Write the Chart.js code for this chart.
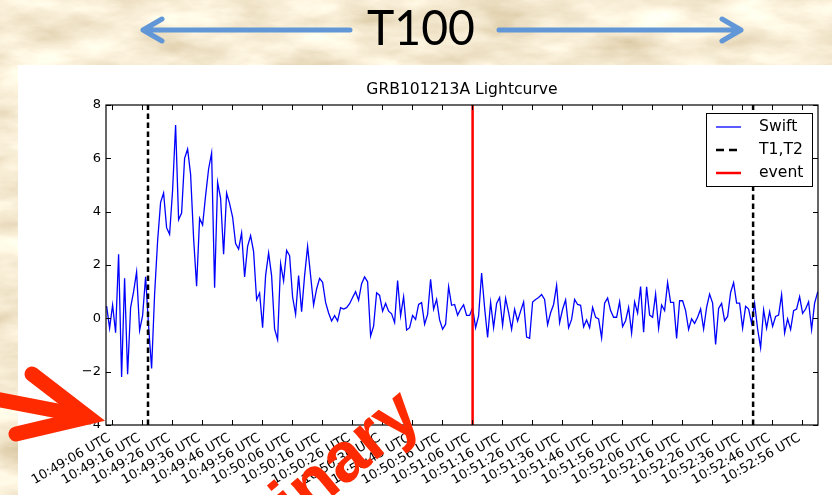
<!DOCTYPE html>
<html>
<head>
<meta charset="utf-8">
<script src="https://cdn.jsdelivr.net/npm/chart.js@4.4.1/dist/chart.umd.min.js"></script>
<style>
  html, body { margin: 0; padding: 0; }
  body { width: 832px; height: 495px; position: relative; overflow: hidden; background: #e6d3aa; }
  #papel, #sobreposicao { position: absolute; left: 0; top: 0; }
  #painel { position: absolute; left: 18px; top: 65px; width: 814px; height: 430px; background: #fff; }
  #grafico { position: absolute; left: 0; top: 0; }
</style>
</head>
<body>
<svg id="papel" width="832" height="495">
  <filter id="textura" x="0" y="0" width="100%" height="100%">
    <feTurbulence type="fractalNoise" baseFrequency="0.011 0.03" numOctaves="5" seed="7"/>
    <feColorMatrix type="matrix" values="0.6 0 0 0 0.62  0.7 0 0 0 0.48  0.8 0 0 0 0.25  0 0 0 0 1"/>
  </filter>
  <rect width="832" height="495" filter="url(#textura)"/>
</svg>
<div id="painel"></div>
<canvas id="grafico" width="832" height="495"></canvas>
<svg id="sobreposicao" width="832" height="495">
  <g stroke="#6197d6" stroke-width="5" fill="none" stroke-linecap="round" stroke-linejoin="round">
    <path d="M350 30 L143 30 M162 19 L143 30 L162 41"/>
    <path d="M499 30 L741 30 M722 19 L741 30 L722 41"/>
  </g>
  <text x="367" y="45" font-family="Lato" font-size="49" fill="#000" textLength="108" lengthAdjust="spacingAndGlyphs">T100</text>
  <g stroke="#ff2a00" stroke-width="15" fill="none" stroke-linecap="round" stroke-linejoin="miter">
    <path d="M-10 398 L84 416"/>
    <path d="M32 374 L88 417 L16 434"/>
  </g>
  <text x="424" y="420" transform="rotate(-40 424 420)" text-anchor="end" font-family="Liberation Sans" font-weight="bold" font-size="70" fill="#ff2a00">Preliminary</text>
</svg>
<script>
// Taxa Swift (contagens normalizadas), um bin por segundo
const swiftInicio = -1.8;   // segundos após 10:49:06 UTC
const swiftBin = 1.0;
const swiftTaxa = [
  0.46, -0.37, 0.5, -0.54, 2.4, -2.2, 1.5, -2.1, 0.4, 1.0,
  1.74, -0.45, 0.1, 1.56, -0.3, -1.88, 0.9, 2.9, 4.35, 4.7,
  3.4, 3.15, 4.8, 7.25, 3.7, 3.95, 6.0, 6.35, 5.4, 3.0,
  1.2, 3.75, 3.5, 4.6, 5.6, 6.2, 1.15, 5.1, 4.5, 2.4,
  4.7, 4.3, 3.8, 2.8, 2.6, 3.2, 1.55, 2.7, 3.1, 2.5,
  0.7, 0.95, -0.35, 1.6, 2.45, 1.6, -0.4, -0.8, 2.05, 1.4,
  2.55, 2.35, 0.8, 0.15, 1.6, 0.25, 1.6, 2.7, 1.6, 0.5,
  1.1, 1.5, 1.35, 0.6, 0.2, -0.1, 0.1, -0.1, 0.4, 0.35,
  0.4, 0.55, 0.78, 1.0, 0.68, 1.3, 1.55, 1.37, -0.66, -0.29,
  0.96, 0.86, 0.27, 0.56, 0.27, 0.17, -0.16, 1.42, 0.09, 0.81,
  -0.44, -0.35, 0.11, -0.04, 0.52, 0.59, -0.22, 0.15, 1.46, 0.34,
  0.71, -0.06, -0.41, -0.22, 1.19, 0.49, 0.52, 0.12, 0.34, 0.51,
  0.11, 0.11, 0.4, -0.35, 0.09, 1.7, 0.4, -0.72, 0.6, -0.35,
  0.56, 0.78, -0.26, 0.75, 0.21, -0.41, 0.34, -0.1, 0.27, 0.61,
  -0.7, -0.75, 0.61, 0.71, 0.78, 0.89, 0.71, -0.24, 0.21, 0.52,
  1.24, -0.16, 0.34, 0.69, -0.35, -0.04, 0.71, 0.52, 0.49, -0.32,
  -0.06, -0.35, 0.41, 0.04, -0.02, -0.73, 0.57, 0.76, 0.29, 0.04,
  0.04, 0.62, -0.31, -0.09, 0.41, -0.55, 0.62, 0.2, 1.19, -0.52,
  1.18, 0.12, 0.04, 0.91, -0.37, 0.5, 0.29, 1.34, 0.6, 0.6,
  -0.75, 0.66, 0.66, 0.29, -0.42, -0.02, -0.19, 0.04, 0.35, -0.4,
  0.41, 0.91, 0.57, -0.98, 0.37, 0.56, -0.09, 0.07, 0.97, 1.34,
  0.57, 0.57, -0.37, 0.45, 0.35, -0.19, 0.57, -0.4, -1.1, 0.32,
  -0.37, 0.25, -0.3, 0.07, 0.12, 0.89, -0.55, -0.02, -0.42, 0.29,
  0.35, 0.81, 0.19, 0.35, 0.62, -0.42, 0.57, 0.97, 1.03
];

// T1, T2 e o evento, em segundos após 10:49:06 UTC
const tempos_T1T2 = [12.0, 213.7];
const tempoEvento = 120.2;

const rotulosX = [
  '10:49:06 UTC', '10:49:16 UTC', '10:49:26 UTC', '10:49:36 UTC', '10:49:46 UTC', '10:49:56 UTC',
  '10:50:06 UTC', '10:50:16 UTC', '10:50:26 UTC', '10:50:36 UTC', '10:50:46 UTC', '10:50:56 UTC',
  '10:51:06 UTC', '10:51:16 UTC', '10:51:26 UTC', '10:51:36 UTC', '10:51:46 UTC', '10:51:56 UTC',
  '10:52:06 UTC', '10:52:16 UTC', '10:52:26 UTC', '10:52:36 UTC', '10:52:46 UTC', '10:52:56 UTC'
];
const ticksY = [-4, -2, 0, 2, 4, 6, 8];
const limitesX = [-2.0, 235.33];

const tituloGrafico = 'GRB101213A Lightcurve';
const itensLegenda = ['Swift', 'T1,T2', 'event'];

function segundos(rotulo) {
  const [h, m, s] = rotulo.split(' ')[0].split(':').map(Number);
  return h * 3600 + m * 60 + s;
}
const ticksX = rotulosX.map(r => segundos(r) - segundos(rotulosX[0]));

const fonte = '"DejaVu Sans", sans-serif';

// moldura estilo matplotlib: caixa, ticks para dentro, rótulos inclinados, título e legenda
const molduraPlugin = {
  id: 'moldura',
  afterDraw(chart) {
    const { ctx, chartArea: a, scales: { x, y } } = chart;
    ctx.save();
    ctx.strokeStyle = '#000';
    ctx.lineWidth = 1.2;
    ctx.strokeRect(a.left, a.top, a.right - a.left, a.bottom - a.top);

    ctx.lineWidth = 1;
    ctx.beginPath();
    x.ticks.forEach(t => {
      const px = Math.round(x.getPixelForValue(t.value)) + 0.5;
      ctx.moveTo(px, a.bottom); ctx.lineTo(px, a.bottom - 5);
      ctx.moveTo(px, a.top); ctx.lineTo(px, a.top + 5);
    });
    y.ticks.forEach(t => {
      const py = Math.round(y.getPixelForValue(t.value)) + 0.5;
      ctx.moveTo(a.left, py); ctx.lineTo(a.left + 5, py);
      ctx.moveTo(a.right, py); ctx.lineTo(a.right - 5, py);
    });
    ctx.stroke();

    // rótulos do eixo x a 30 graus, alinhados à direita no tick
    ctx.fillStyle = '#000';
    ctx.font = '13px ' + fonte;
    ctx.textAlign = 'right';
    ctx.textBaseline = 'alphabetic';
    x.ticks.forEach((t, i) => {
      ctx.save();
      ctx.translate(x.getPixelForValue(t.value) - 1, a.bottom + 15);
      ctx.rotate(-Math.PI / 6);
      ctx.fillText(rotulosX[i], 0, 0);
      ctx.restore();
    });

    ctx.font = '15.6px ' + fonte;
    ctx.textAlign = 'center';
    ctx.textBaseline = 'middle';
    ctx.fillText(tituloGrafico, (a.left + a.right) / 2, a.top - 15);

    // legenda
    const lx = a.right - 112, ly = a.top + 8, lw = 106, lh = 73;
    ctx.fillStyle = '#fff';
    ctx.fillRect(lx, ly, lw, lh);
    ctx.strokeStyle = '#000';
    ctx.lineWidth = 1;
    ctx.strokeRect(lx + 0.5, ly + 0.5, lw, lh);
    const estilos = [
      { cor: '#0000ff', largura: 1.3, traco: [] },
      { cor: '#000000', largura: 2.5, traco: [8, 5] },
      { cor: '#ff0000', largura: 2.5, traco: [] }
    ];
    itensLegenda.forEach((texto, i) => {
      const yy = ly + 14 + i * 23;
      const e = estilos[i];
      ctx.beginPath();
      ctx.strokeStyle = e.cor;
      ctx.lineWidth = e.largura;
      ctx.setLineDash(e.traco);
      ctx.moveTo(lx + 10, yy);
      ctx.lineTo(lx + 35, yy);
      ctx.stroke();
      ctx.setLineDash([]);
      ctx.fillStyle = '#000';
      ctx.textAlign = 'left';
      ctx.fillText(texto, lx + 53, yy);
    });
    ctx.restore();
  }
};

const linhaVertical = (t) => [{ x: t, y: -4 }, { x: t, y: 8 }];

new Chart(document.getElementById('grafico'), {
  type: 'line',
  plugins: [molduraPlugin],
  data: {
    datasets: [
      {
        label: 'event',
        data: linhaVertical(tempoEvento),
        borderColor: '#ff0000',
        borderWidth: 2.5,
        pointRadius: 0,
        order: 0
      },
      {
        label: 'T1,T2',
        data: [...linhaVertical(tempos_T1T2[0]), { x: NaN, y: NaN }, ...linhaVertical(tempos_T1T2[1])],
        borderColor: '#000000',
        borderWidth: 2.5,
        borderDash: [5.5, 3.5],
        pointRadius: 0,
        spanGaps: false,
        order: 1
      },
      {
        label: 'Swift',
        data: swiftTaxa.map((v, i) => ({ x: swiftInicio + i * swiftBin, y: v })),
        borderColor: '#0000ff',
        borderWidth: 1.3,
        pointRadius: 0,
        tension: 0,
        order: 2
      }
    ]
  },
  options: {
    responsive: false,
    devicePixelRatio: 1,
    animation: false,
    events: [],
    layout: { padding: { left: 0, top: 105, right: 14, bottom: 0 } },
    plugins: { legend: { display: false }, tooltip: { enabled: false }, title: { display: false } },
    scales: {
      x: {
        type: 'linear',
        min: limitesX[0],
        max: limitesX[1],
        afterBuildTicks: (scale) => { scale.ticks = ticksX.map(v => ({ value: v })); },
        afterFit: (scale) => { scale.height = 70; },
        grid: { display: false, drawTicks: false },
        border: { display: false },
        ticks: { display: false }
      },
      y: {
        min: ticksY[0],
        max: ticksY[ticksY.length - 1],
        afterBuildTicks: (scale) => { scale.ticks = ticksY.map(v => ({ value: v })); },
        afterFit: (scale) => { scale.width = 106; },
        grid: { display: false, drawTicks: false },
        border: { display: false },
        ticks: {
          padding: 5,
          color: '#000',
          font: { family: 'DejaVu Sans', size: 13 },
          callback: (v) => v < 0 ? '\u2212' + Math.abs(v) : String(v)
        }
      }
    }
  }
});
</script>
</body>
</html>
